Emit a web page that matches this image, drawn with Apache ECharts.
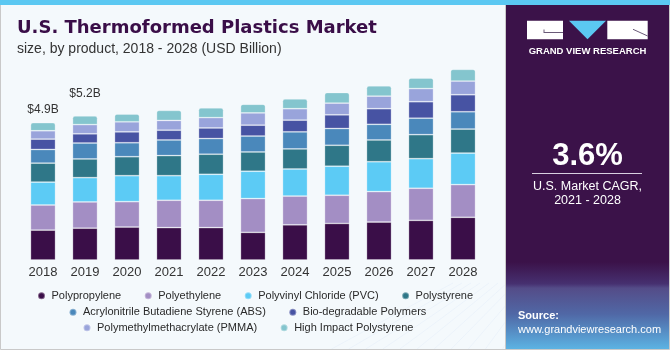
<!DOCTYPE html>
<html>
<head>
<meta charset="utf-8">
<script src="https://cdn.jsdelivr.net/npm/echarts@6/dist/echarts.min.js"></script>
<style>
html,body{margin:0;padding:0;background:#F4F9FC;}
#c{width:670px;height:350px;}
</style>
</head>
<body>
<div id="c"></div>
<script>
var years = ['2018','2019','2020','2021','2022','2023','2024','2025','2026','2027','2028'];
var seriesNames = ['Polypropylene','Polyethylene','Polyvinyl Chloride (PVC)','Polystyrene','Acrylonitrile Butadiene Styrene (ABS)','Bio-degradable Polymers','Polymethylmethacrylate (PMMA)','High Impact Polystyrene'];
var polypropylene = [1.07,1.14,1.18,1.16,1.16,0.99,1.26,1.31,1.36,1.42,1.53];
var polyethylene  = [0.90,0.94,0.91,0.98,0.98,1.21,1.03,1.01,1.09,1.15,1.17];
var pvc           = [0.82,0.87,0.93,0.88,0.93,0.98,0.97,1.04,1.07,1.06,1.13];
var polystyrene   = [0.68,0.67,0.68,0.72,0.72,0.69,0.72,0.75,0.78,0.86,0.86];
var absPlastic    = [0.49,0.57,0.50,0.56,0.56,0.57,0.61,0.60,0.56,0.59,0.62];
var bioPolymers   = [0.37,0.33,0.39,0.35,0.38,0.39,0.42,0.49,0.56,0.59,0.61];
var pmma          = [0.30,0.33,0.36,0.35,0.37,0.44,0.41,0.42,0.45,0.47,0.49];
var hips          = [0.29,0.31,0.28,0.36,0.35,0.31,0.35,0.38,0.37,0.38,0.42];
var totalLabels = ['$4.9B','$5.2B'];
var colors = ['#3A0E48','#A38EC4','#5CCBF5','#2F7788','#4A88BB','#4753A3','#99A4DB','#84C5CE'];

var allData = [polypropylene, polyethylene, pvc, polystyrene, absPlastic, bioPolymers, pmma, hips];
var labelDistances = [7, 16];

var chart = echarts.init(document.getElementById('c'));
var series = allData.map(function(arr, si){
  var isTop = si === allData.length - 1;
  return {
    name: seriesNames[si],
    type: 'bar',
    stack: 'total',
    barWidth: 25,
    data: arr.map(function(v, i){
      if (isTop && i < totalLabels.length) {
        return {value: v, label: {show: true, position: 'top', distance: labelDistances[i], formatter: totalLabels[i], color: '#333', fontSize: 12, fontFamily: 'Liberation Sans, Arial'}};
      }
      return v;
    }),
    itemStyle: {
      color: colors[si],
      borderColor: 'rgba(255,255,255,0.35)',
      borderWidth: 0.8,
      borderRadius: isTop ? [2,2,0,0] : 0
    },
    emphasis: {disabled: true}
  };
});

function legendRow(names, left, top){
  return {
    data: names,
    left: left, top: top, padding: 0, orient: 'horizontal',
    icon: 'circle', itemWidth: 10, itemHeight: 7, itemGap: 22.5,
    textStyle: {color: '#2a2a2a', fontSize: 11, fontFamily: 'Liberation Sans, Arial', lineHeight: 14},
    selectedMode: false
  };
}

var gridLines = [];
var hy = [287, 293, 300, 308, 317, 327, 338];
hy.forEach(function(y){
  gridLines.push({type:'line', shape:{x1:507,y1:y,x2:670,y2:y+ (y%2? 1:-1)}, style:{stroke:'rgba(190,210,245,0.22)', lineWidth:0.8}, silent:true});
});
for (var k = -6; k <= 20; k++) {
  var xt = 507 + k * 9;
  var xb = 588 + (xt - 588) * 1.9;
  gridLines.push({type:'line', shape:{x1:xt,y1:283,x2:xb,y2:349}, style:{stroke:'rgba(190,210,245,0.2)', lineWidth:0.8}, silent:true});
}

chart.setOption({
  backgroundColor: '#F4F9FC',
  animation: false,
  title: {
    text: 'U.S. Thermoformed Plastics Market',
    subtext: 'size, by product, 2018 - 2028 (USD Billion)',
    left: 17, top: 18, padding: 0, itemGap: 3,
    textStyle: {color: '#3A0E48', fontSize: 18, fontWeight: 'bold', fontFamily: 'DejaVu Sans', lineHeight: 20},
    subtextStyle: {color: '#333', fontSize: 14, fontFamily: 'Liberation Sans, Arial', lineHeight: 16}
  },
  legend: [
    legendRow(seriesNames.slice(0,4), 37, 288.7),
    legendRow(seriesNames.slice(4,6), 68.5, 305.3),
    legendRow(seriesNames.slice(6,8), 82.5, 320.7)
  ],
  grid: {left: 22, right: 186, top: 59, bottom: 90, containLabel: false},
  xAxis: {
    type: 'category', data: years,
    axisLine: {show: false}, axisTick: {show: false},
    axisLabel: {color: '#333', fontSize: 13, margin: 6, fontFamily: 'Liberation Sans, Arial'}
  },
  yAxis: {type: 'value', min: 0, max: 7.2, show: false, splitLine: {show: false}},
  series: series,
  graphic: [
    {type:'rect', shape:{x:0,y:0,width:670,height:5}, style:{fill:'#5BC8F2'}, z:10, silent:true},
    {type:'rect', shape:{x:0.5,y:0.5,width:669,height:349}, style:{fill:'none', stroke:'#c9c9c9', lineWidth:1}, z:9, silent:true},
    {type:'rect', shape:{x:506,y:5,width:164,height:344}, style:{fill:'#3B1249'}, z:1, silent:true},
    {type:'line', shape:{x1:505.5,y1:5,x2:505.5,y2:349}, style:{stroke:'#c9c9c9', lineWidth:1}, z:2, silent:true},
    {type:'rect', shape:{x:506,y:262,width:164,height:87}, z:2, silent:true,
      style:{fill: new echarts.graphic.LinearGradient(0,0,0,1,[
        {offset:0, color:'#3B1249'},
        {offset:0.25, color:'#463070'},
        {offset:0.3, color:'#544C88'},
        {offset:0.6, color:'#5068A6'},
        {offset:1, color:'#5CB3E3'}
      ])}},
    {type:'group', z:3, silent:true, children: gridLines},
    // logo
    {type:'rect', shape:{x:527,y:20.7,width:36,height:18.6}, style:{fill:'#ffffff'}, z:4, silent:true},
    {type:'line', shape:{x1:544,y1:32.5,x2:563,y2:32.5}, style:{stroke:'#6a5a78', lineWidth:1}, z:5, silent:true},
    {type:'line', shape:{x1:544,y1:29.5,x2:544,y2:33}, style:{stroke:'#6a5a78', lineWidth:1}, z:5, silent:true},
    {type:'polygon', shape:{points:[[569,20.7],[606,20.7],[587.5,39.3]]}, style:{fill:'#5BC8F2'}, z:4, silent:true},
    {type:'rect', shape:{x:607.3,y:20.7,width:40.4,height:18.6}, style:{fill:'#ffffff'}, z:4, silent:true},
    {type:'line', shape:{x1:633,y1:29.3,x2:647.7,y2:36}, style:{stroke:'#6a5a78', lineWidth:1}, z:5, silent:true},
    {type:'text', x:587.5, y:51, z:5, silent:true, style:{text:'GRAND VIEW RESEARCH', fill:'#ffffff', font:'bold 9.5px Liberation Sans, Arial', textAlign:'center', textVerticalAlign:'middle'}},
    // CAGR
    {type:'text', x:587.5, y:156, z:5, silent:true, style:{text:'3.6%', fill:'#ffffff', font:'bold 31px Liberation Sans, Arial', textAlign:'center', textVerticalAlign:'middle'}},
    {type:'line', shape:{x1:532,y1:173.5,x2:642,y2:173.5}, style:{stroke:'#d8d0e0', lineWidth:1}, z:5, silent:true},
    {type:'text', x:587.5, y:186.5, z:5, silent:true, style:{text:'U.S. Market CAGR,', fill:'#ffffff', font:'12.5px Liberation Sans, Arial', textAlign:'center', textVerticalAlign:'middle'}},
    {type:'text', x:587.5, y:201, z:5, silent:true, style:{text:'2021 - 2028', fill:'#ffffff', font:'12.5px Liberation Sans, Arial', textAlign:'center', textVerticalAlign:'middle'}},
    // source
    {type:'text', x:518, y:316, z:5, silent:true, style:{text:'Source:', fill:'#ffffff', font:'bold 11px Liberation Sans, Arial', textAlign:'left', textVerticalAlign:'middle'}},
    {type:'text', x:518, y:330, z:5, silent:true, style:{text:'www.grandviewresearch.com', fill:'#ffffff', font:'11px Liberation Sans, Arial', textAlign:'left', textVerticalAlign:'middle'}}
  ]
});
</script>
</body>
</html>
